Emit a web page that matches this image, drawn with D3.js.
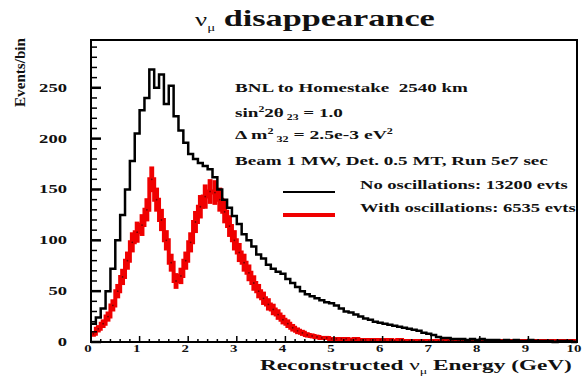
<!doctype html>
<html>
<head>
<meta charset="utf-8">
<title>numu disappearance</title>
<script src="https://cdn.jsdelivr.net/npm/d3@7"></script>
<style>
  body { margin: 0; background: #fff; }
  text { font-family: "Liberation Serif", "Times New Roman", serif; font-weight: bold; fill: #111; }
</style>
</head>
<body>
<script>
// bin edges 0..10 GeV in 0.1 GeV bins
var binWidth = 0.1;
var noOsc = [18, 24, 33, 50, 72, 100, 125, 150, 178, 205,
             228, 240, 268, 250, 263, 234, 252, 222, 208, 196,
             185, 180, 176, 173, 170, 162, 150, 140, 132, 124,
             116, 106, 100, 94, 86, 82, 76, 72, 69, 67,
             62, 58, 54, 50, 47, 45, 43, 41, 39, 38,
             36, 33, 30, 29, 27, 25, 23, 22, 20, 19,
             18, 17, 16, 15, 14, 13, 12, 11, 9, 8,
             7, 5, 4, 4, 3, 3, 3, 2, 3, 2,
             3, 2, 2, 2, 1, 2, 1, 2, 1, 1,
             2, 1, 1, 1, 1, 0, 1, 1, 1, 0];
var withOsc = [8, 13, 18, 25, 36, 50, 64, 80, 98, 108,
               115, 130, 160, 140, 120, 100, 78, 60, 65, 80,
               98, 118, 133, 143, 148, 147, 140, 128, 114, 100,
               88, 78, 68, 58, 50, 43, 37, 32, 27, 22,
               18, 14, 11, 9, 7, 6, 5, 4, 4, 3,
               3, 3, 3, 2, 3, 2, 2, 2, 2, 2,
               2, 2, 1, 2, 1, 1, 1, 1, 1, 1,
               1, 1, 1, 1, 1, 1, 1, 1, 1, 1,
               1, 1, 1, 1, 1, 1, 1, 1, 1, 1,
               1, 1, 1, 1, 1, 1, 1, 1, 1, 1];
var xTicks = [0, 1, 2, 3, 4, 5, 6, 7, 8, 9, 10];
var yTicks = [0, 50, 100, 150, 200, 250];

var W = 583, H = 378;
var x = d3.scaleLinear().domain([0, 10]).range([91, 577]);
var y = d3.scaleLinear().domain([0, 297]).range([342, 40]);

var svg = d3.select("body").append("svg")
    .attr("width", W).attr("height", H);

// stretch a text horizontally so it covers the given width (the source figure is wide)
function fit(t, x0, y0, width, rot) {
    t.attr("x", 0).attr("y", 0);
    var w = t.node().getComputedTextLength();
    t.attr("transform", "translate(" + x0 + "," + y0 + ")" + (rot ? " rotate(" + rot + ")" : "") +
        " scale(" + (width / w) + ",1)");
    return t;
}

// histogram step path
function stepPath(vals) {
    var pts = [];
    vals.forEach(function(v, i) {
        pts.push([i * binWidth, v]);
        pts.push([(i + 1) * binWidth, v]);
    });
    return d3.line().x(function(d) { return x(d[0]); }).y(function(d) { return y(d[1]); })(pts);
}

// red: statistical (sqrt N) error boxes + step line
svg.selectAll(".err").data(withOsc).enter().append("rect")
    .attr("x", function(d, i) { return x(i * binWidth); })
    .attr("width", x(binWidth) - x(0))
    .attr("y", function(d) { return y(d + Math.sqrt(d)); })
    .attr("height", function(d) { return y(d - Math.sqrt(d)) - y(d + Math.sqrt(d)); })
    .attr("fill", "#f00000");
svg.append("path")
    .attr("d", stepPath(withOsc))
    .attr("fill", "none").attr("stroke", "#f00000")
    .attr("stroke-width", 4);
svg.selectAll(".mk").data(withOsc).enter().append("circle")
    .attr("cx", function(d, i) { return x((i + 0.5) * binWidth); })
    .attr("cy", function(d) { return y(d); })
    .attr("r", 0.9).attr("fill", "#700");

svg.append("path")
    .attr("d", stepPath(noOsc))
    .attr("fill", "none").attr("stroke", "#000")
    .attr("stroke-width", 2.5);

// frame
svg.append("rect")
    .attr("x", x(0)).attr("y", y(297))
    .attr("width", x(10) - x(0)).attr("height", y(0) - y(297))
    .attr("fill", "none").attr("stroke", "#000").attr("stroke-width", 2);

// y ticks (inward)
var yMinor = d3.range(0, 297, 10);
svg.selectAll(".ytk").data(yMinor).enter().append("line")
    .attr("x1", x(0)).attr("x2", function(d) { return x(0) + (d % 50 === 0 ? 10 : 6); })
    .attr("y1", function(d) { return y(d); }).attr("y2", function(d) { return y(d); })
    .attr("stroke", "#000").attr("stroke-width", function(d) { return d % 50 === 0 ? 2.5 : 1.5; });

svg.selectAll(".ylab").data(yTicks).enter().append("text")
    .attr("text-anchor", "end").attr("font-size", 12)
    .attr("transform", function(d) { return "translate(67," + (y(d) + 4) + ") scale(1.55,1)"; })
    .text(function(d) { return d; });

// x ticks (inward)
var xMinor = d3.range(0, 10.01, 0.2);
svg.selectAll(".xtk").data(xMinor).enter().append("line")
    .attr("x1", function(d) { return x(d); }).attr("x2", function(d) { return x(d); })
    .attr("y1", y(0)).attr("y2", function(d) { return y(0) - (Math.abs(d - Math.round(d)) < 1e-6 ? 6 : 3); })
    .attr("stroke", "#000").attr("stroke-width", 1.5);

svg.selectAll(".xlab").data(xTicks).enter().append("text")
    .attr("text-anchor", "middle").attr("font-size", 11)
    .attr("transform", function(d) { return "translate(" + (x(d) - 3) + ",352) scale(1.35,1)"; })
    .text(function(d) { return d; });

// axis titles
var xt = svg.append("text").attr("font-size", 15);
xt.append("tspan").text("Reconstructed ");
xt.append("tspan").attr("font-weight", "normal").text("\u03bd");
xt.append("tspan").attr("font-size", 9).attr("dy", 4).attr("font-weight", "normal").text("\u03bc");
xt.append("tspan").attr("dy", -4).text(" Energy (GeV)");
fit(xt, 260, 370, 312);

var yt = svg.append("text").attr("text-anchor", "end").attr("font-size", 14)
    .text("Events/bin");
fit(yt, 25, 38, 69, -90);

// title
var tt = svg.append("text").attr("font-size", 23);
tt.append("tspan").attr("font-weight", "normal").attr("font-size", 18).text("\u03bd");
tt.append("tspan").attr("font-size", 10).attr("dy", 5).attr("font-weight", "normal").text("\u03bc");
tt.append("tspan").attr("dy", -5).text(" disappearance");
fit(tt, 195, 26, 240);

// info text
var fs = 13;
fit(svg.append("text").attr("font-size", fs).text("BNL to Homestake\u00a0\u00a02540 km"), 235, 92, 233);

var l2 = svg.append("text").attr("font-size", fs);
l2.append("tspan").text("sin");
l2.append("tspan").attr("font-size", 8).attr("dy", -5).text("2");
l2.append("tspan").attr("dy", 5).text("2\u03b8");
l2.append("tspan").attr("font-size", 8).attr("dy", 3).text(" 23");
l2.append("tspan").attr("dy", -3).text(" = 1.0");
fit(l2, 235, 117, 108);

var l3 = svg.append("text").attr("font-size", fs);
l3.append("tspan").text("\u0394 m");
l3.append("tspan").attr("font-size", 8).attr("dy", -5).text("2");
l3.append("tspan").attr("font-size", 8).attr("dy", 8).text(" 32");
l3.append("tspan").attr("dy", -3).text(" = 2.5e-3 eV");
l3.append("tspan").attr("font-size", 8).attr("dy", -5).text("2");
fit(l3, 235, 139, 158);

fit(svg.append("text").attr("font-size", fs).text("Beam 1 MW, Det. 0.5 MT, Run 5e7 sec"), 235, 165, 313);

// legend
svg.append("line").attr("x1", 283).attr("x2", 335).attr("y1", 192).attr("y2", 192)
    .attr("stroke", "#000").attr("stroke-width", 2);
fit(svg.append("text").attr("font-size", fs).text("No oscillations: 13200 evts"), 360, 189, 208);
svg.append("line").attr("x1", 283).attr("x2", 335).attr("y1", 215).attr("y2", 215)
    .attr("stroke", "#f00000").attr("stroke-width", 4);
fit(svg.append("text").attr("font-size", fs).text("With oscillations: 6535 evts"), 360, 212, 216);
</script>
</body>
</html>
